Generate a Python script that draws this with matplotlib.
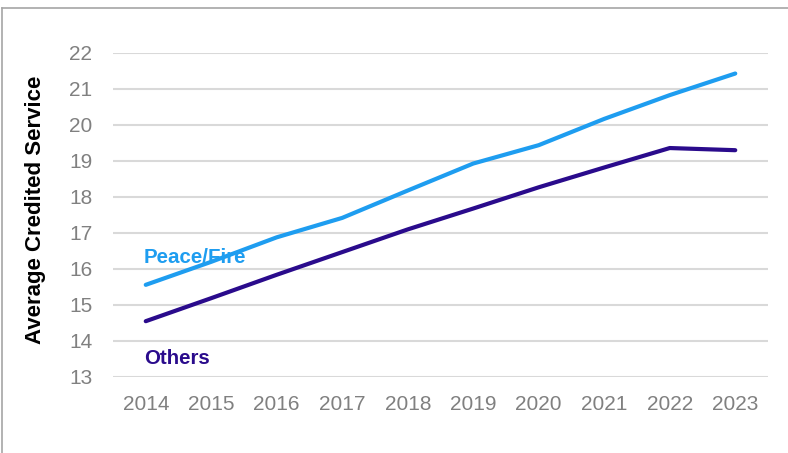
import matplotlib
matplotlib.use("Agg")
import matplotlib.pyplot as plt
from matplotlib.lines import Line2D

plt.rcParams['font.family'] = ['Liberation Sans', 'DejaVu Sans']

years = ["2014", "2015", "2016", "2017", "2018", "2019", "2020", "2021", "2022", "2023"]
peace_fire = [15.56, 16.2, 16.88, 17.42, 18.18, 18.93, 19.44, 20.17, 20.83, 21.43]
others = [14.55, 15.19, 15.84, 16.47, 17.1, 17.68, 18.27, 18.82, 19.36, 19.3]
y_ticks = list(range(13, 23))

W, H = 788, 453
fig = plt.figure(figsize=(W / 100, H / 100), dpi=100)
ax = fig.add_axes([113 / W, 1 - 377 / H, (768 - 113) / W, (377 - 53) / H])

x = list(range(len(years)))
ax.plot(x, peace_fire, color="#1E9DF0", lw=3.0, solid_capstyle="round", zorder=3)
ax.plot(x, others, color="#2A0B8C", lw=3.0, solid_capstyle="round", zorder=3)

ax.set_xlim(-0.5, len(years) - 0.5)
ax.set_ylim(13, 22)
ax.set_yticks(y_ticks)
ax.set_xticks(x)
ax.set_xticklabels(years)
ax.yaxis.grid(True, color="#D9D9D9", lw=1.5)
ax.set_axisbelow(True)
for s in ax.spines.values():
    s.set_visible(False)
ax.tick_params(axis="both", length=0, labelsize=15, labelcolor="#808080")
ax.tick_params(axis="y", pad=15)
ax.tick_params(axis="x", pad=13)

ax.text(-0.03, 16.32, "Peace/Fire", color="#1E9DF0", fontsize=14.8, fontweight="bold",
        va="center", ha="left")
ax.text(-0.03, 13.5, "Others", color="#2A0B8C", fontsize=14.8, fontweight="bold",
        va="center", ha="left")

fig.text(36 / W, 1 - 210 / H, "Average Credited Service", rotation=90, fontsize=16,
         fontweight="bold", color="black", ha="center", va="center")

# outer frame
fig.add_artist(Line2D([2 / W, 1], [1 - 8 / H, 1 - 8 / H], color="#A6A6A6", lw=1.2,
                      transform=fig.transFigure))
fig.add_artist(Line2D([2 / W, 2 / W], [0, 1 - 8 / H], color="#A6A6A6", lw=1.2,
                      transform=fig.transFigure))

fig.savefig("out.png", dpi=100)
